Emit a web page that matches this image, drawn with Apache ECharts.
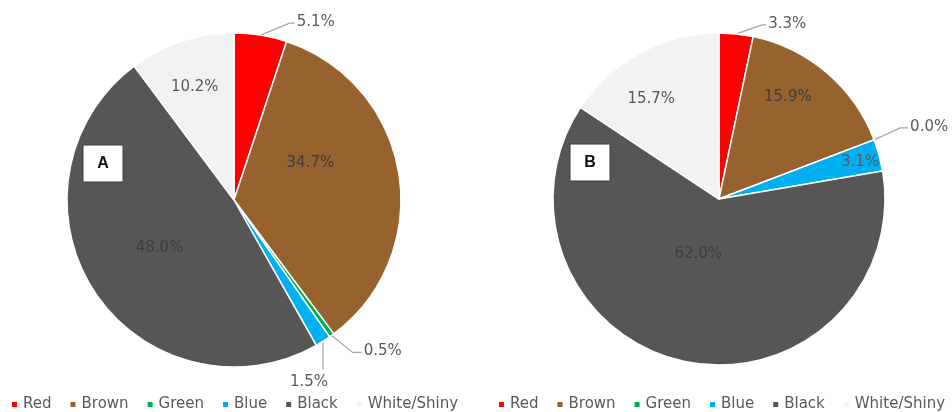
<!DOCTYPE html>
<html>
<head>
<meta charset="utf-8">
<script src="https://cdn.jsdelivr.net/npm/echarts@6/dist/echarts.min.js"></script>
<style>
  html, body { margin: 0; padding: 0; background: #ffffff; }
  #chart { width: 952px; height: 412px; }
</style>
</head>
<body>
<div id="chart"></div>
<script>
// Colour categories and the share (%) of each in the two samples
const categories = ['Red', 'Brown', 'Green', 'Blue', 'Black', 'White/Shiny'];
const shareA = [5.1, 34.7, 0.5, 1.5, 48.0, 10.2];
const shareB = [3.3, 15.9, 0.0, 3.1, 62.0, 15.7];
const panelTags = ['A', 'B'];

// Slice fills, one per category
const sliceColors = ['#ff0000', '#98622f', '#00b050', '#00b0f0', '#565656', '#f2f2f2'];

// Which slices carry their label outside with a leader line
const outsideA = ['Red', 'Green', 'Blue'];
const outsideB = ['Red', 'Green'];

// Nudges for the labels that sit inside their slice
const insideShift = [
  { 'Brown': [-9, -23], 'Black': [-2, 1], 'White/Shiny': [-12, -31] },
  { 'Brown': [13, -36], 'Blue': [58, -14], 'Black': [-3, -29], 'White/Shiny': [-27, -24] }
];

// Leader line shapes for outside labels, relative to the slice's edge anchor
const leaderShape = [
  { 'Red': { dx: 29, dy: -12, run: 5 }, 'Green': { dx: 21, dy: 17, run: 9 }, 'Blue': { drop: 28 } },
  { 'Red': { dx: 26, dy: -9, run: 4 }, 'Green': { dx: 26, dy: -12, run: 8 } }
];

const labelFont = 'DejaVu Sans';

function buildData(values, outside) {
  return categories.map((name, i) => {
    const isOut = outside.indexOf(name) >= 0;
    const dark = name === 'Brown' || name === 'Black';
    return {
      name: name,
      value: values[i],
      itemStyle: { color: sliceColors[i] },
      label: {
        position: isOut ? 'outside' : 'inside',
        color: dark ? '#3d3d3d' : '#595959'
      },
      labelLine: { show: isOut }
    };
  });
}

// Places each label relative to where the pie layout put it
function placeLabel(params) {
  const si = params.seriesIndex;
  const name = categories[params.dataIndex];
  const shift = insideShift[si][name];
  if (shift) {
    return { dx: shift[0], dy: shift[1] };
  }
  const g = leaderShape[si][name];
  if (g && params.labelLinePoints) {
    const p0 = params.labelLinePoints[0];
    if (g.drop) {
      const end = [p0[0], p0[1] + g.drop];
      return {
        x: p0[0] - 14,
        y: end[1] + 5,
        align: 'center',
        verticalAlign: 'top',
        labelLinePoints: [p0, end, end]
      };
    }
    const mid = [p0[0] + g.dx, p0[1] + g.dy];
    const end = [mid[0] + g.run, mid[1]];
    return {
      x: end[0] + 2,
      y: end[1] - 1,
      align: 'left',
      verticalAlign: 'middle',
      labelLinePoints: [p0, mid, end]
    };
  }
  return {};
}

function pieSeries(values, outside, center, radius) {
  return {
    type: 'pie',
    center: center,
    radius: radius,
    startAngle: 90,
    clockwise: true,
    avoidLabelOverlap: false,
    animation: false,
    silent: true,
    itemStyle: { borderColor: '#ffffff', borderWidth: 1.5 },
    label: {
      show: true,
      fontFamily: labelFont,
      fontSize: 15,
      formatter: p => p.value.toFixed(1) + '%'
    },
    labelLine: {
      length: 12,
      length2: 10,
      lineStyle: { color: '#a6a6a6', width: 1.2 }
    },
    labelLayout: placeLabel,
    data: buildData(values, outside)
  };
}

const chart = echarts.init(document.getElementById('chart'), null, { renderer: 'canvas' });

function legendFor(left) {
  return {
    left: left,
    top: 397,
    padding: 0,
    width: 470,
    icon: 'rect',
    itemWidth: 7,
    itemHeight: 7,
    itemGap: 17,
    selectedMode: false,
    textStyle: { fontFamily: labelFont, fontSize: 15, color: '#595959' },
    data: categories
  };
}

function tagBox(text, x, y) {
  return [
    {
      type: 'rect',
      z: 100,
      shape: { x: x, y: y, width: 40, height: 37 },
      style: { fill: '#ffffff', stroke: '#3a3a3a', lineWidth: 1 }
    },
    {
      type: 'text',
      z: 101,
      x: x + 20,
      y: y + 19,
      style: {
        text: text,
        fontFamily: 'Liberation Sans',
        fontWeight: 'bold',
        fontSize: 16,
        fill: '#111111',
        align: 'center',
        verticalAlign: 'middle'
      }
    }
  ];
}

chart.setOption({
  backgroundColor: '#ffffff',
  legend: [legendFor(10), legendFor(497)],
  series: [
    pieSeries(shareA, outsideA, [234, 200], 167),
    pieSeries(shareB, outsideB, [719, 199], 166)
  ],
  graphic: tagBox(panelTags[0], 83, 145).concat(tagBox(panelTags[1], 570, 144))
});
</script>
</body>
</html>
